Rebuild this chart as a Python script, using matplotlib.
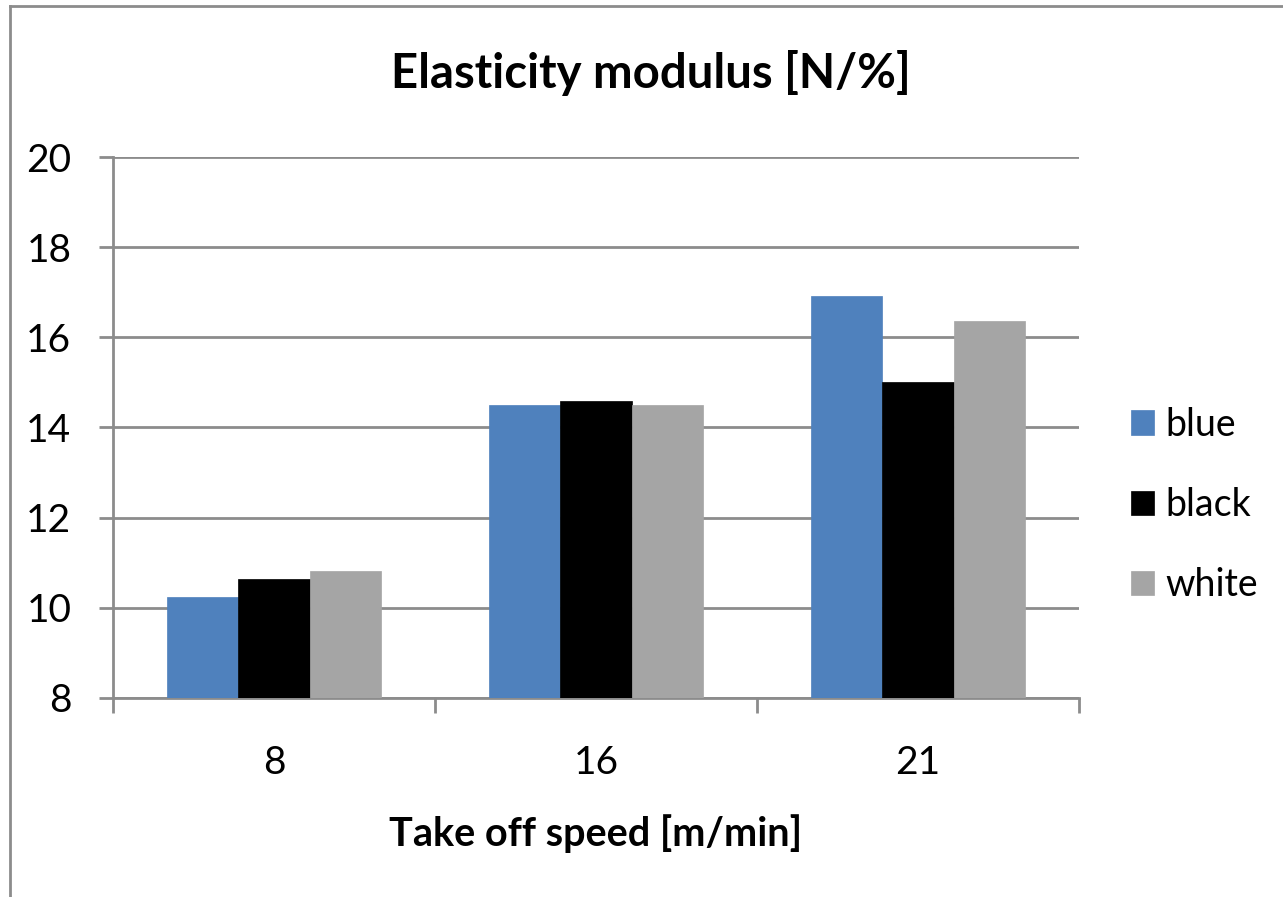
import matplotlib
matplotlib.use("Agg")
import matplotlib.pyplot as plt
from matplotlib.lines import Line2D
import numpy as np

categories = ["8", "16", "21"]
series_names = ["blue", "black", "white"]
blue_vals = [10.24, 14.50, 16.91]
black_vals = [10.64, 14.59, 15.00]
white_vals = [10.82, 14.50, 16.36]
colors = ["#4F81BD", "#000000", "#A5A5A5"]
yticks = [8, 10, 12, 14, 16, 18, 20]

plt.rcParams['font.family'] = ['Lato', 'DejaVu Sans']

fig = plt.figure(figsize=(12.83, 8.97), dpi=100)
ax = fig.add_axes([113/1283, 1-698/897, (1079-113)/1283, (698-157)/897])

grey = "#8C8C8C"
x = np.arange(len(categories))
bw = 0.222
for i, (vals, name, c) in enumerate(zip([blue_vals, black_vals, white_vals], series_names, colors)):
    ax.bar(x + (i-1)*bw, np.array(vals) - 8, bottom=8, width=bw, color=c, label=name,
           zorder=3, edgecolor=c, linewidth=0.5)

ax.set_ylim(8, 20)
ax.set_xlim(-0.5, 2.5)
ax.set_yticks(yticks)
ax.set_yticklabels([str(t) for t in yticks])
ax.yaxis.grid(True, color=grey, linewidth=2, zorder=0)
ax.set_axisbelow(True)

ax.set_xticks([-0.5, 0.5, 1.5, 2.5])
ax.set_xticklabels([])
ax.set_xticks(x, minor=True)
ax.set_xticklabels(categories, minor=True)
ax.tick_params(axis='x', which='major', length=11, width=2, color=grey, direction='out')
ax.tick_params(axis='x', which='minor', length=0, pad=34, labelsize=28)
ax.tick_params(axis='y', length=10, width=2, color=grey, pad=20, labelsize=28)

for s in ['top', 'right']:
    ax.spines[s].set_visible(False)
for s in ['left', 'bottom']:
    ax.spines[s].set_color(grey)
    ax.spines[s].set_linewidth(2)

ax.set_xlabel("Take off speed [m/min]", fontsize=28.5, fontweight='bold', labelpad=24)
fig.text(0.507, 0.919, "Elasticity modulus [N/%]", fontsize=34, fontweight='bold',
         ha='center', va='center')

fig.legend(loc='center left', bbox_to_anchor=(1097/1283, 1-505/897), frameon=False,
           fontsize=27, handlelength=0.62, handleheight=0.62, handletextpad=0.3,
           labelspacing=1.18)

# outer chart border (clipped at right/bottom)
fig.add_artist(Line2D([10/1283, 10/1283], [0, 1-6/897], color=grey, linewidth=2,
                      transform=fig.transFigure))
fig.add_artist(Line2D([10/1283, 1], [1-6/897, 1-6/897], color=grey, linewidth=2,
                      transform=fig.transFigure))

fig.savefig("out.png", dpi=100)
